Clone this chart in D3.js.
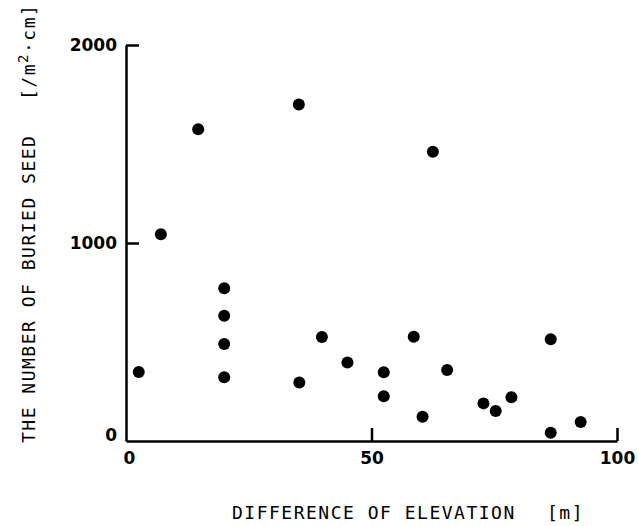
<!DOCTYPE html>
<html>
<head>
<meta charset="utf-8">
<script src="https://cdn.jsdelivr.net/npm/d3@7"></script>
<style>
  body { margin: 0; background: #fff; }
  .tick text { font-family: "DejaVu Sans", sans-serif; font-weight: bold; font-size: 17px; fill: #000; }
  .title { font-family: "DejaVu Sans Mono", monospace; font-size: 18px; letter-spacing: 1.5px; fill: #000; }
</style>
</head>
<body>
<svg class="seeds" width="638" height="526"></svg>
<script>
// difference of elevation [m] and buried seeds [/m2.cm]
var elevation = [2.6, 7.1, 14.7, 20.0, 20.0, 20.0, 20.0, 35.3, 35.2, 39.9, 45.1, 52.5,
                 52.5, 58.6, 60.4, 65.4, 72.8, 75.3, 78.5, 86.5, 86.5, 92.6, 62.5];
var seeds = [348, 1044, 1574, 771, 633, 490, 322, 296, 1700, 525, 397, 347,
             226, 527, 123, 359, 190, 152, 221, 514, 42, 96, 1461];
var xTicks = [0, 50, 100];
var yTicks = [0, 1000, 2000];

(function () {
  var svg = d3.select(".seeds");
  var left = 126, right = 617, top = 45, bottom = 441;

  var xscale = d3.scaleLinear().domain([0, 100]).range([left, right]);
  var yscale = d3.scaleLinear().domain([0, 2000]).range([bottom, top]);

  var xaxis = d3.axisBottom(xscale)
    .tickValues(xTicks)
    .tickFormat(d3.format("d"))
    .tickSizeInner(-13)
    .tickSizeOuter(0)
    .tickPadding(11);
  var gx = svg.append("g")
    .attr("transform", "translate(0," + bottom + ")")
    .call(xaxis);
  gx.selectAll(".tick text").attr("dx", function(d) { return d === 0 ? 3 : 0; });

  var yaxis = d3.axisLeft(yscale)
    .tickValues(yTicks)
    .tickFormat(d3.format("d"))
    .tickSizeInner(-13)
    .tickSizeOuter(0)
    .tickPadding(9);
  var gy = svg.append("g")
    .attr("transform", "translate(" + left + ",0)")
    .call(yaxis);
  gy.selectAll(".tick text").attr("y", function(d) { return d === 0 ? -6 : 0; });

  svg.selectAll(".domain, .tick line")
    .attr("stroke", "#000")
    .attr("stroke-width", 2.5);
  gx.selectAll(".tick").filter(function(d) { return d === 0; }).select("line").remove();
  gy.selectAll(".tick").filter(function(d) { return d === 0; }).select("line").remove();

  svg.append("g").selectAll("circle")
    .data(elevation)
    .enter().append("circle")
      .attr("cx", function(d) { return xscale(d); })
      .attr("cy", function(d, i) { return yscale(seeds[i]); })
      .attr("r", 6)
      .attr("fill", "#000");

  // axis titles
  svg.append("text").attr("class", "title")
    .attr("x", 232).attr("y", 519)
    .text("DIFFERENCE OF ELEVATION");
  svg.append("text").attr("class", "title")
    .attr("x", 547).attr("y", 519)
    .text("[m]");

  svg.append("text").attr("class", "title")
    .attr("transform", "translate(35,443) rotate(-90)")
    .text("THE NUMBER OF BURIED SEED");
  var unit = svg.append("text").attr("class", "title")
    .attr("transform", "translate(35,100) rotate(-90)");
  unit.append("tspan").text("[/m");
  unit.append("tspan").attr("dy", -7).style("font-size", "14px").text("2");
  unit.append("tspan").attr("dy", 7).text("\u00b7cm]");
})();
</script>
</body>
</html>
